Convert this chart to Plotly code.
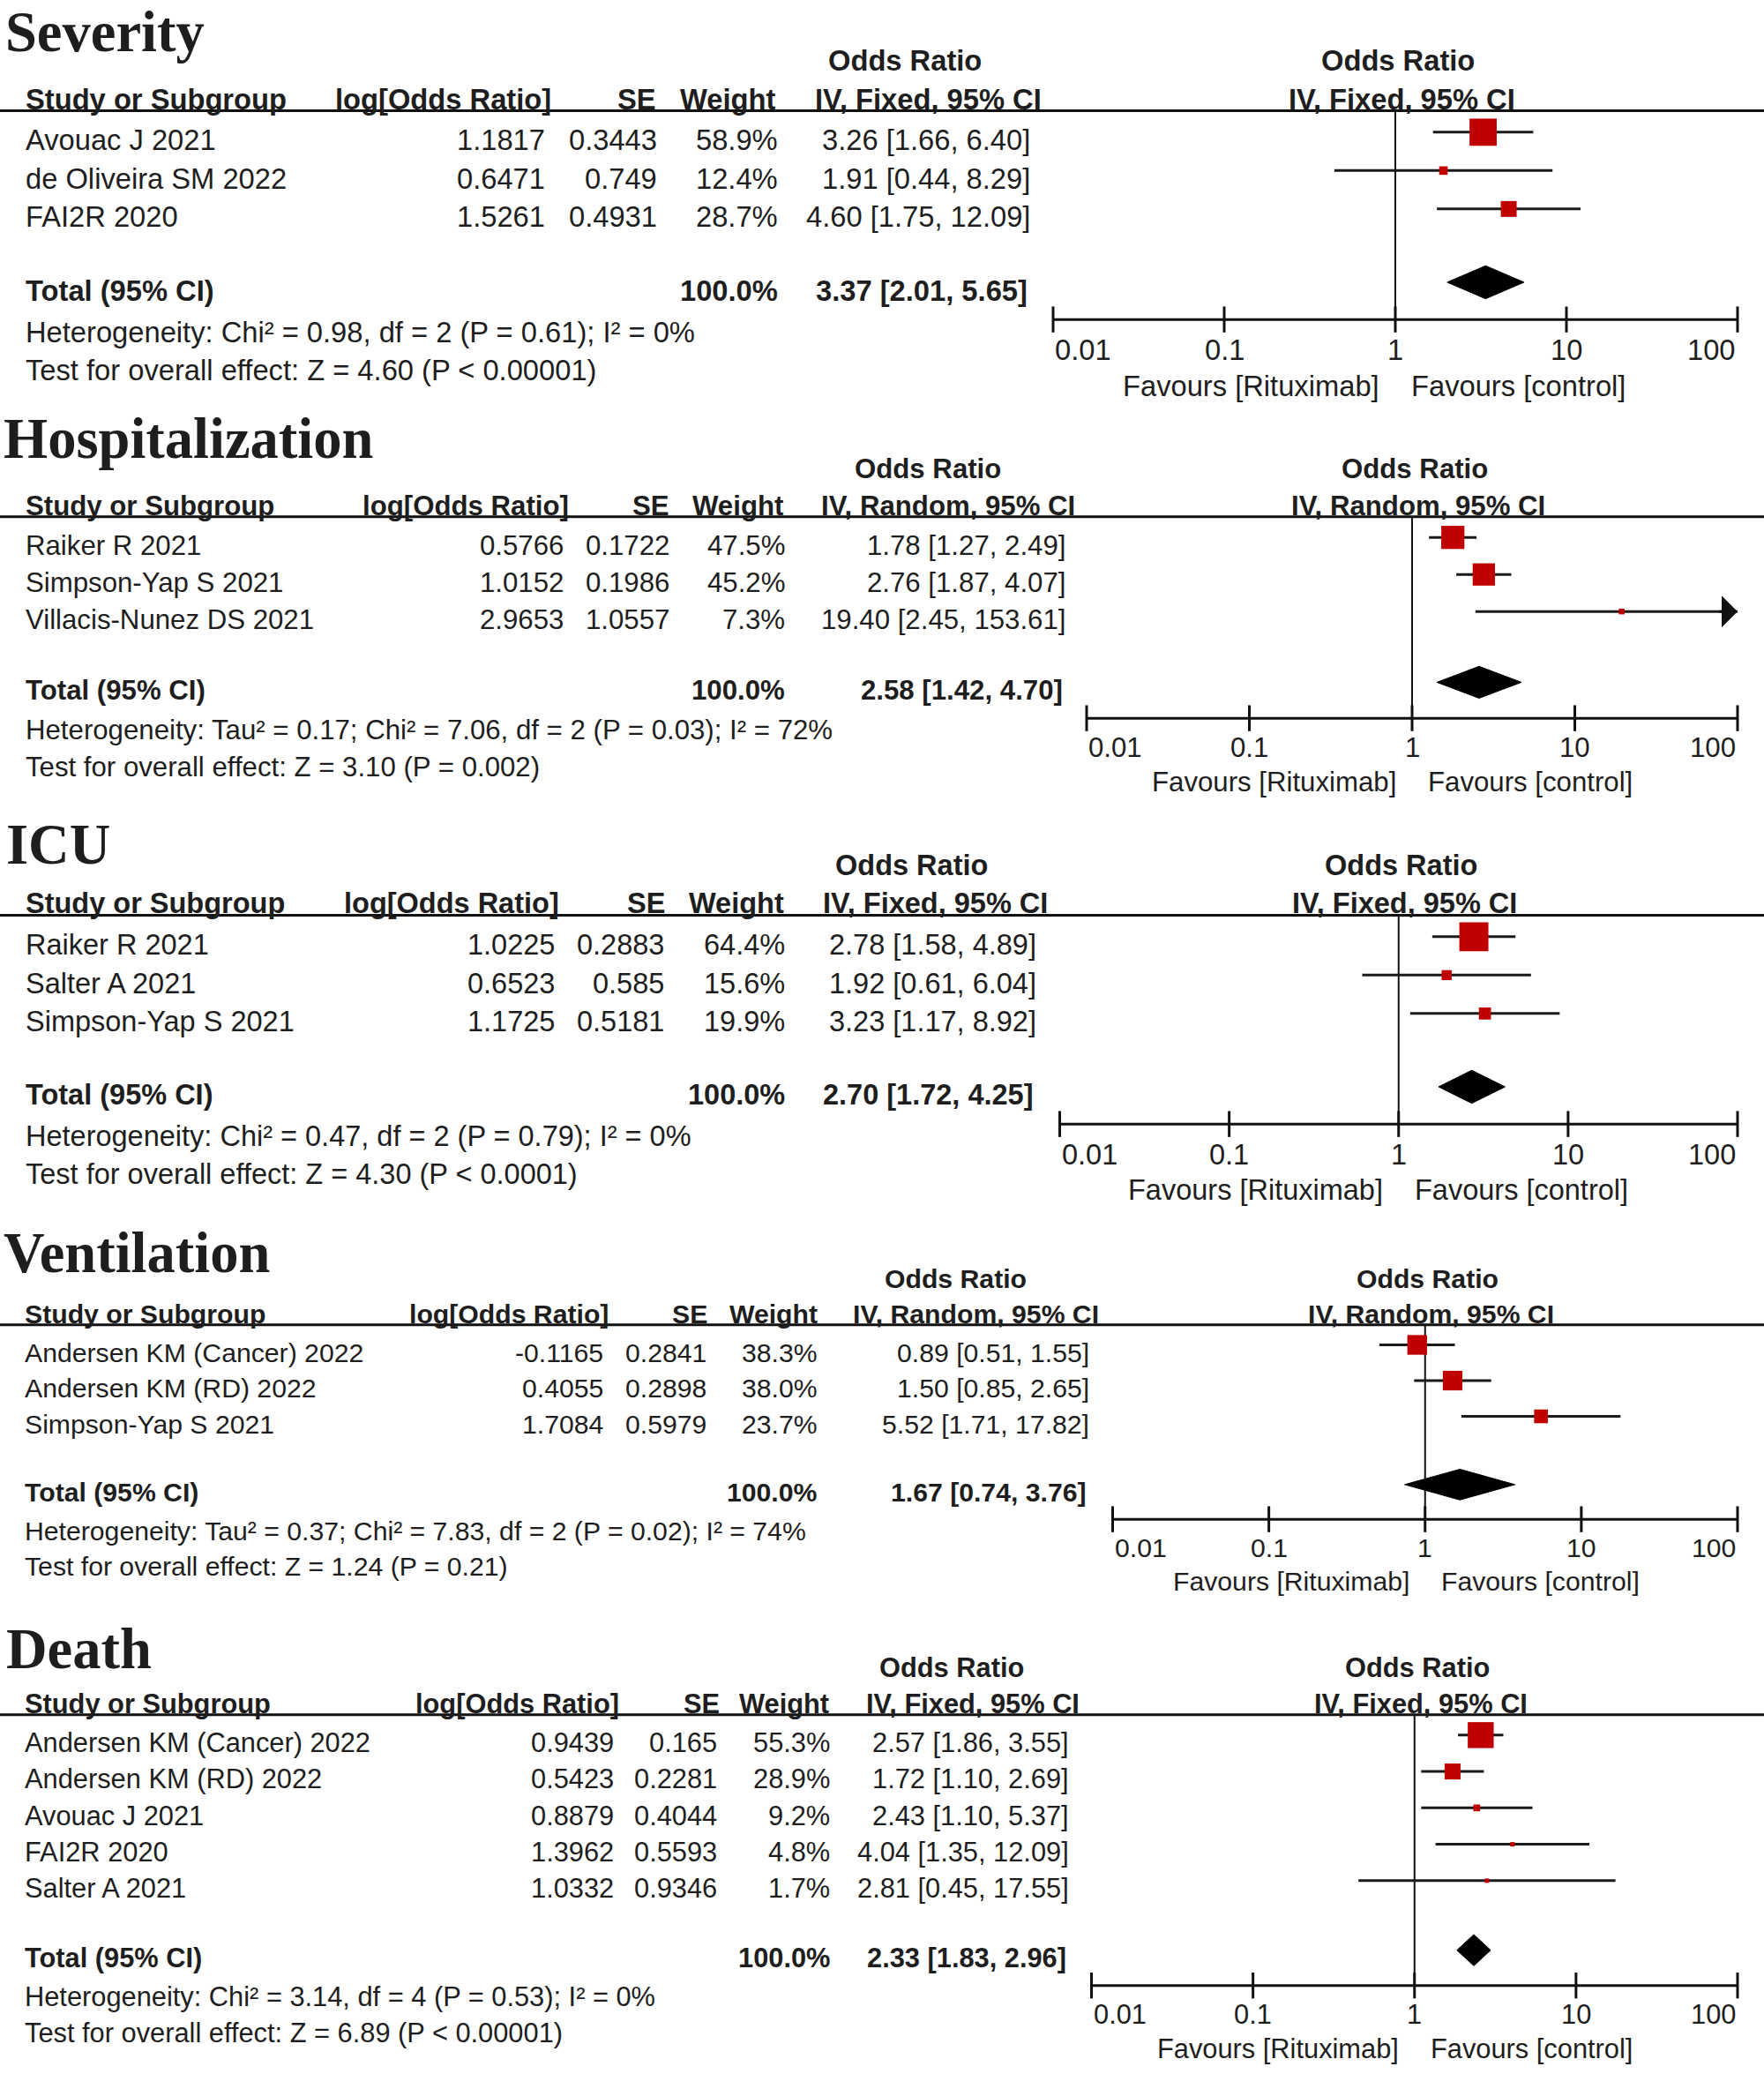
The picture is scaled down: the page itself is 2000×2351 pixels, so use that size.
import math
import plotly.graph_objects as go

W, H = 2000, 2351

# ------------------------------------------------------------------ data
sev_studies = ["Avouac J 2021", "de Oliveira SM 2022", "FAI2R 2020"]
sev_logor = ["1.1817", "0.6471", "1.5261"]
sev_se = ["0.3443", "0.749", "0.4931"]
sev_weight = [58.9, 12.4, 28.7]
sev_or = [3.26, 1.91, 4.60]
sev_lo = [1.66, 0.44, 1.75]
sev_hi = [6.40, 8.29, 12.09]
sev_total = [3.37, 2.01, 5.65]
sev_het = "Heterogeneity: Chi² = 0.98, df = 2 (P = 0.61); I² = 0%"
sev_test = "Test for overall effect: Z = 4.60 (P < 0.00001)"

hos_studies = ["Raiker R 2021", "Simpson-Yap S 2021", "Villacis-Nunez DS 2021"]
hos_logor = ["0.5766", "1.0152", "2.9653"]
hos_se = ["0.1722", "0.1986", "1.0557"]
hos_weight = [47.5, 45.2, 7.3]
hos_or = [1.78, 2.76, 19.40]
hos_lo = [1.27, 1.87, 2.45]
hos_hi = [2.49, 4.07, 153.61]
hos_total = [2.58, 1.42, 4.70]
hos_het = "Heterogeneity: Tau² = 0.17; Chi² = 7.06, df = 2 (P = 0.03); I² = 72%"
hos_test = "Test for overall effect: Z = 3.10 (P = 0.002)"

icu_studies = ["Raiker R 2021", "Salter A 2021", "Simpson-Yap S 2021"]
icu_logor = ["1.0225", "0.6523", "1.1725"]
icu_se = ["0.2883", "0.585", "0.5181"]
icu_weight = [64.4, 15.6, 19.9]
icu_or = [2.78, 1.92, 3.23]
icu_lo = [1.58, 0.61, 1.17]
icu_hi = [4.89, 6.04, 8.92]
icu_total = [2.70, 1.72, 4.25]
icu_het = "Heterogeneity: Chi² = 0.47, df = 2 (P = 0.79); I² = 0%"
icu_test = "Test for overall effect: Z = 4.30 (P < 0.0001)"

ven_studies = ["Andersen KM (Cancer) 2022", "Andersen KM (RD) 2022", "Simpson-Yap S 2021"]
ven_logor = ["-0.1165", "0.4055", "1.7084"]
ven_se = ["0.2841", "0.2898", "0.5979"]
ven_weight = [38.3, 38.0, 23.7]
ven_or = [0.89, 1.50, 5.52]
ven_lo = [0.51, 0.85, 1.71]
ven_hi = [1.55, 2.65, 17.82]
ven_total = [1.67, 0.74, 3.76]
ven_het = "Heterogeneity: Tau² = 0.37; Chi² = 7.83, df = 2 (P = 0.02); I² = 74%"
ven_test = "Test for overall effect: Z = 1.24 (P = 0.21)"

dea_studies = ["Andersen KM (Cancer) 2022", "Andersen KM (RD) 2022", "Avouac J 2021",
               "FAI2R 2020", "Salter A 2021"]
dea_logor = ["0.9439", "0.5423", "0.8879", "1.3962", "1.0332"]
dea_se = ["0.165", "0.2281", "0.4044", "0.5593", "0.9346"]
dea_weight = [55.3, 28.9, 9.2, 4.8, 1.7]
dea_or = [2.57, 1.72, 2.43, 4.04, 2.81]
dea_lo = [1.86, 1.10, 1.10, 1.35, 0.45]
dea_hi = [3.55, 2.69, 5.37, 12.09, 17.55]
dea_total = [2.33, 1.83, 2.96]
dea_het = "Heterogeneity: Chi² = 3.14, df = 4 (P = 0.53); I² = 0%"
dea_test = "Test for overall effect: Z = 6.89 (P < 0.00001)"

titles = ["Severity", "Hospitalization", "ICU", "Ventilation", "Death"]
models = ["IV, Fixed, 95% CI", "IV, Random, 95% CI", "IV, Fixed, 95% CI",
          "IV, Random, 95% CI", "IV, Fixed, 95% CI"]
tick_vals = [0.01, 0.1, 1, 10, 100]
tick_text = ["0.01", "0.1", "1", "10", "100"]
favours_left = "Favours [Rituximab]"
favours_right = "Favours [control]"

sections = [
    dict(studies=sev_studies, logor=sev_logor, se=sev_se, weight=sev_weight, est=sev_or,
         lo=sev_lo, hi=sev_hi, total=sev_total, het=sev_het, test=sev_test),
    dict(studies=hos_studies, logor=hos_logor, se=hos_se, weight=hos_weight, est=hos_or,
         lo=hos_lo, hi=hos_hi, total=hos_total, het=hos_het, test=hos_test),
    dict(studies=icu_studies, logor=icu_logor, se=icu_se, weight=icu_weight, est=icu_or,
         lo=icu_lo, hi=icu_hi, total=icu_total, het=icu_het, test=icu_test),
    dict(studies=ven_studies, logor=ven_logor, se=ven_se, weight=ven_weight, est=ven_or,
         lo=ven_lo, hi=ven_hi, total=ven_total, het=ven_het, test=ven_test),
    dict(studies=dea_studies, logor=dea_logor, se=dea_se, weight=dea_weight, est=dea_or,
         lo=dea_lo, hi=dea_hi, total=dea_total, het=dea_het, test=dea_test),
]

# ------------------------------------------------------------------ layout / style (pixels)
styles = [
    dict(row0=159, rh=43.5, fs=32.7, name_x=27, logor_r=618, se_r=745, w_r=882, ci_r=1168,
         tci_r=1165, h_logor_r=627, h_se_r=746, h_w_r=881, h_ci_r=1183, or_c=1026,
         ax0=1194, ax1=1970, title_x=4, title_row=-2.82),
    dict(row0=618, rh=42.0, fs=31.2, name_x=27, logor_r=639, se_r=759, w_r=889.5, ci_r=1207.5,
         tci_r=1204.5, h_logor_r=646.5, h_se_r=760.5, h_w_r=889.5, h_ci_r=1221, or_c=1051.5,
         ax0=1232, ax1=1970, title_x=2, title_row=-2.86),
    dict(row0=1071, rh=43.5, fs=32.5, name_x=27, logor_r=628.5, se_r=753, w_r=889.5, ci_r=1174.5,
         tci_r=1171.5, h_logor_r=636, h_se_r=756, h_w_r=891, h_ci_r=1189.5, or_c=1033.5,
         ax0=1201.5, ax1=1970, title_x=5, title_row=-2.62),
    dict(row0=1533, rh=40.5, fs=30.2, name_x=26, logor_r=684, se_r=801, w_r=927, ci_r=1234.5,
         tci_r=1231.5, h_logor_r=691.5, h_se_r=804, h_w_r=928.5, h_ci_r=1248, or_c=1083,
         ax0=1261.5, ax1=1970, title_x=2, title_row=-2.79),
    dict(row0=1975.5, rh=41.25, fs=30.8, name_x=26, logor_r=696, se_r=813, w_r=940.5, ci_r=1212,
         tci_r=1209, h_logor_r=703.5, h_se_r=817.5, h_w_r=942, h_ci_r=1225.5, or_c=1078.5,
         ax0=1237.5, ax1=1970, title_x=5, title_row=-2.57),
]

SANS = "Liberation Sans, Arial, sans-serif"
SERIF = "Liberation Serif, Times New Roman, serif"
TXT = "#1e1e1e"
RED = "#c00000"
MARK_OFF = 0.21   # marker rows sit slightly above text rows (fraction of row height)
VAL_DX = 2        # small nudge of right-aligned value columns (px)

fig = go.Figure()
layout = dict(width=W, height=H, margin=dict(l=0, r=0, t=0, b=0),
              paper_bgcolor="white", plot_bgcolor="rgba(0,0,0,0)", showlegend=False)
annotations = []
shapes = []


def ci_text(e, l, h):
    return f"{e:.2f} [{l:.2f}, {h:.2f}]"


for k, (d, s) in enumerate(zip(sections, styles), start=1):
    sfx = "" if k == 1 else str(k)
    xa, ya = "x" + sfx, "y" + sfx
    n = len(d["studies"])
    rh, fs = s["rh"], s["fs"]
    m0 = s["row0"] - MARK_OFF * rh          # pixel of marker row 0
    r_top = -m0 / rh
    r_bot = (H - m0) / rh
    layout["xaxis" + sfx] = dict(type="log", range=[-2, 2], domain=[s["ax0"] / W, s["ax1"] / W],
                                 visible=False, anchor=ya, fixedrange=True)
    layout["yaxis" + sfx] = dict(range=[r_bot, r_top], domain=[0, 1], visible=False,
                                 anchor=xa, fixedrange=True)
    ysh = -MARK_OFF * rh

    def txt(text, xpx, row, anchor="right", bold=False, size=None, family=SANS, xref="paper",
            xshift=0):
        annotations.append(dict(
            text=f"<b>{text}</b>" if bold else text,
            x=xpx / W if xref == "paper" else xpx, xref=xref, y=row, yref=ya,
            xanchor=anchor, yanchor="middle", xshift=xshift, yshift=ysh, showarrow=False,
            font=dict(family=family, size=size or fs, color=TXT)))

    # title & headers
    txt(titles[k - 1], s["title_x"], s["title_row"], "left", True, 64.5, SERIF)
    txt("Odds Ratio", s["or_c"], -2.07, "center", True)
    txt("Study or Subgroup", s["name_x"], -1.07, "left", True)
    txt("log[Odds Ratio]", s["h_logor_r"], -1.07, "right", True)
    txt("SE", s["h_se_r"], -1.07, "right", True)
    txt("Weight", s["h_w_r"], -1.07, "right", True)
    txt(models[k - 1], s["h_ci_r"], -1.07, "right", True)
    txt("Odds Ratio", 0, -2.07, "center", True, xref=xa, xshift=3)
    txt(models[k - 1], 0, -1.07, "center", True, xref=xa, xshift=7)

    # study rows
    for i in range(n):
        txt(d["studies"][i], s["name_x"], i, "left")
        txt(d["logor"][i], s["logor_r"], i, xshift=VAL_DX)
        txt(d["se"][i], s["se_r"], i, xshift=VAL_DX)
        txt(f"{d['weight'][i]:.1f}%", s["w_r"], i, xshift=VAL_DX)
        txt(ci_text(d["est"][i], d["lo"][i], d["hi"][i]), s["ci_r"], i, xshift=VAL_DX)

    tot = n + 0.91
    txt("Total (95% CI)", s["name_x"], tot, "left", True)
    txt("100.0%", s["w_r"], tot, "right", True, xshift=VAL_DX)
    txt(ci_text(*d["total"]), s["tci_r"], tot, "right", True, xshift=VAL_DX)
    txt(d["het"], s["name_x"], n + 1.99, "left")
    txt(d["test"], s["name_x"], n + 2.98, "left")

    # header rule across the full width
    hl = -0.56
    shapes.append(dict(type="line", xref="paper", yref=ya, x0=0, x1=1, y0=hl, y1=hl,
                       line=dict(color="#111", width=3)))

    axis_row = n + 1.88
    # line of no effect
    fig.add_trace(go.Scatter(x=[1, 1], y=[hl, axis_row], xaxis=xa, yaxis=ya, mode="lines",
                             line=dict(color="#111", width=2), cliponaxis=False, hoverinfo="skip"))
    # CI lines
    cx, cy = [], []
    for i in range(n):
        cx += [d["lo"][i], min(d["hi"][i], tick_vals[-1]), None]
        cy += [i, i, None]
    fig.add_trace(go.Scatter(x=cx, y=cy, xaxis=xa, yaxis=ya, mode="lines",
                             line=dict(color="#1a1a1a", width=3), cliponaxis=False, hoverinfo="skip"))
    # arrowheads for CIs truncated at the axis end
    xmax_log = math.log10(tick_vals[-1])
    for i in range(n):
        if d["hi"][i] > tick_vals[-1]:
            annotations.append(dict(text="", x=xmax_log, y=i, xref=xa, yref=ya,
                                    ax=xmax_log - 0.12, ay=i, axref=xa, ayref=ya,
                                    showarrow=True, arrowhead=1, arrowsize=2, arrowwidth=3,
                                    arrowcolor="#111", standoff=0))
    # weight squares
    sizes = [max(5, 1.45 * w ** 0.75) for w in d["weight"]]
    fig.add_trace(go.Scatter(x=d["est"], y=list(range(n)), xaxis=xa, yaxis=ya, mode="markers",
                             marker=dict(symbol="square", size=sizes, color=RED, opacity=1,
                                         line=dict(width=0)),
                             cliponaxis=False, hoverinfo="skip"))
    # pooled diamond
    te, tl, th = d["total"]
    hh = 0.43
    fig.add_trace(go.Scatter(x=[tl, te, th, te, tl], y=[tot, tot - hh, tot, tot + hh, tot],
                             xaxis=xa, yaxis=ya, mode="lines", fill="toself", fillcolor="black",
                             line=dict(color="black", width=1), cliponaxis=False, hoverinfo="skip"))
    # axis line + crossing ticks
    fig.add_trace(go.Scatter(x=[tick_vals[0], tick_vals[-1]], y=[axis_row, axis_row], xaxis=xa,
                             yaxis=ya, mode="lines", line=dict(color="#111", width=3),
                             cliponaxis=False, hoverinfo="skip"))
    fig.add_trace(go.Scatter(x=tick_vals, y=[axis_row] * len(tick_vals), xaxis=xa, yaxis=ya,
                             mode="markers",
                             marker=dict(symbol="line-ns", size=21, opacity=1,
                                         line=dict(color="#111", width=3)),
                             cliponaxis=False, hoverinfo="skip"))
    for j, (tv, tt) in enumerate(zip(tick_vals, tick_text)):
        anc = "left" if j == 0 else ("right" if j == len(tick_vals) - 1 else "center")
        txt(tt, math.log10(tv), n + 2.46, anc, xref=xa)
    annotations.append(dict(text=favours_left, x=0, xref=xa, y=n + 3.4, yref=ya, xanchor="right",
                            yanchor="middle", xshift=-16, yshift=ysh, showarrow=False,
                            font=dict(family=SANS, size=fs, color=TXT)))
    annotations.append(dict(text=favours_right, x=0, xref=xa, y=n + 3.4, yref=ya, xanchor="left",
                            yanchor="middle", xshift=16, yshift=ysh, showarrow=False,
                            font=dict(family=SANS, size=fs, color=TXT)))

layout["annotations"] = annotations
layout["shapes"] = shapes
fig.update_layout(**layout)
fig.write_html("out.html", config={"displayModeBar": False},
               post_script="document.body.style.margin='0';document.body.style.overflow='hidden';")
